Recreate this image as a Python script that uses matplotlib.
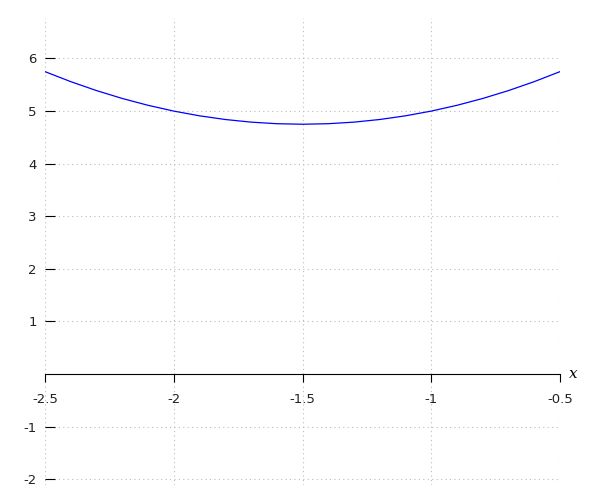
import matplotlib
matplotlib.use("Agg")
import matplotlib.pyplot as plt

# points of the curve
x_vals = [-2.5, -2.4, -2.3, -2.2, -2.1, -2.0, -1.9, -1.8, -1.7, -1.6, -1.5,
          -1.4, -1.3, -1.2, -1.1, -1.0, -0.9, -0.8, -0.7, -0.6, -0.5]
y_vals = [5.75, 5.56, 5.39, 5.24, 5.11, 5.00, 4.91, 4.84, 4.79, 4.76, 4.75,
          4.76, 4.79, 4.84, 4.91, 5.00, 5.11, 5.24, 5.39, 5.56, 5.75]

x_ticks = [-2.5, -2, -1.5, -1, -0.5]
x_labels = ['-2.5', '-2', '-1.5', '-1', '-0.5']
y_ticks = [-2, -1, 1, 2, 3, 4, 5, 6]
y_labels = ['-2', '-1', '1', '2', '3', '4', '5', '6']

fig = plt.figure(figsize=(6, 5), dpi=100)
ax = fig.add_axes([45/600, 15/500, 515/600, 467/500])

ax.plot(x_vals, y_vals, color='blue', linewidth=0.9)

ax.set_xlim(-2.5, -0.5)
ax.set_ylim(-2.11, 6.77)

ax.spines['top'].set_visible(False)
ax.spines['right'].set_visible(False)
ax.spines['left'].set_visible(False)
ax.spines['bottom'].set_position(('data', 0))
ax.spines['bottom'].set_linewidth(0.8)

ax.set_xticks(x_ticks)
ax.set_xticklabels(x_labels)
ax.set_yticks(y_ticks)
ax.set_yticklabels(y_labels)
ax.tick_params(axis='x', direction='out', length=6, width=0.8, pad=8, labelsize=9.5,
               color='black', labelcolor='#222222')
ax.tick_params(axis='y', direction='in', length=7, width=0.8, pad=6, labelsize=9.5,
               color='black', labelcolor='#222222')

ax.grid(True, linestyle=(0, (1, 3)), color='#bbbbbb', linewidth=0.8)

ax.text(1.018, 0, 'x', transform=ax.get_yaxis_transform(), fontsize=11,
        family='DejaVu Serif', style='italic', va='center', ha='left')

fig.savefig('out.png', dpi=100)
